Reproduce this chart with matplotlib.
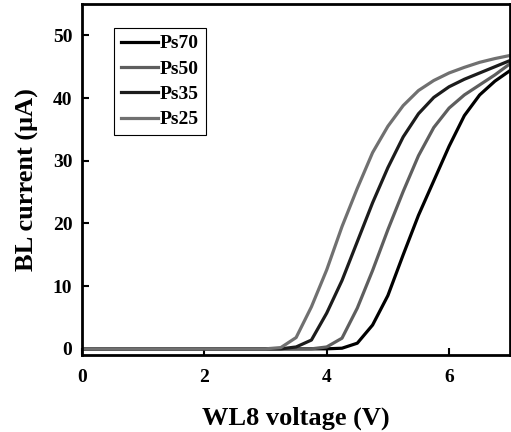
import matplotlib
matplotlib.use("Agg")
import matplotlib.pyplot as plt

plt.rcParams['font.family'] = ['Liberation Serif', 'DejaVu Serif']
plt.rcParams['font.weight'] = 'bold'

v_ps25 = [0, 1, 2, 3.0, 3.25, 3.5, 3.75, 4.0, 4.25, 4.5, 4.75, 5.0, 5.25, 5.5, 5.75, 6.0, 6.25, 6.5, 6.75, 7.0]
i_ps25 = [0, 0, 0, 0.0, 0.2, 1.8, 6.7, 12.6, 19.5, 25.6, 31.3, 35.5, 38.8, 41.2, 42.8, 44.0, 44.9, 45.7, 46.3, 46.8]

v_ps35 = [0, 1, 2, 3.0, 3.25, 3.5, 3.75, 4.0, 4.25, 4.5, 4.75, 5.0, 5.25, 5.5, 5.75, 6.0, 6.25, 6.5, 6.75, 7.0]
i_ps35 = [0, 0, 0, 0.0, 0.0, 0.3, 1.4, 5.7, 10.9, 17.1, 23.3, 28.9, 33.8, 37.5, 40.1, 41.8, 43.0, 44.0, 45.0, 46.0]

v_ps50 = [0, 1, 2, 3.0, 3.5, 3.75, 4.0, 4.25, 4.5, 4.75, 5.0, 5.25, 5.5, 5.75, 6.0, 6.25, 6.5, 6.75, 7.0]
i_ps50 = [0, 0, 0, 0.0, 0.0, 0.0, 0.3, 1.7, 6.5, 12.5, 19.0, 25.1, 30.8, 35.3, 38.4, 40.5, 42.1, 43.7, 45.5]

v_ps70 = [0, 1, 2, 3.0, 3.5, 4.0, 4.25, 4.5, 4.75, 5.0, 5.25, 5.5, 5.75, 6.0, 6.25, 6.5, 6.75, 7.0]
i_ps70 = [0, 0, 0, 0.0, 0.0, 0.0, 0.1, 0.9, 3.8, 8.5, 15.0, 21.3, 26.8, 32.3, 37.2, 40.5, 42.7, 44.4]

labels = ['Ps70', 'Ps50', 'Ps35', 'Ps25']
x_ticks = [0, 2, 4, 6]
y_ticks = [0, 10, 20, 30, 40, 50]

fig = plt.figure(figsize=(5.11, 4.32), dpi=100)
ax = fig.add_axes([0.1605, 0.178, 0.838, 0.8127])

series = [(v_ps70, i_ps70, '#000000'),
          (v_ps50, i_ps50, '#5e5e5e'),
          (v_ps35, i_ps35, '#1c1c1c'),
          (v_ps25, i_ps25, '#707070')]
for (v, i, c), lab in zip(series, labels):
    ax.plot(v, i, color=c, lw=2.3, label=lab)

ax.set_xlim(0, 7)
ax.set_ylim(-1, 55)
ax.set_xticks(x_ticks)
ax.set_yticks(y_ticks)
ax.tick_params(direction='in', length=5, width=1.5, labelsize=14)
ax.tick_params(axis='x', pad=10)
ax.tick_params(axis='y', pad=7)
for lab in ax.get_xticklabels() + ax.get_yticklabels():
    lab.set_fontweight('bold')
for s in ax.spines.values():
    s.set_linewidth(2.0)

ax.set_xlabel('WL8 voltage (V)', fontsize=19, fontweight='bold', labelpad=15)
ax.set_ylabel('BL current (\u03bcA)', fontsize=19, fontweight='bold', labelpad=10)

leg = ax.legend(loc='upper left', bbox_to_anchor=(0.075, 0.932), borderaxespad=0,
                handlelength=1.9, handletextpad=0.1, borderpad=0.35,
                labelspacing=0.4, fancybox=False, framealpha=1,
                prop={'weight': 'bold', 'size': 14})
leg.get_frame().set_edgecolor('black')
leg.get_frame().set_linewidth(0.8)

fig.savefig('out.png', dpi=100)
